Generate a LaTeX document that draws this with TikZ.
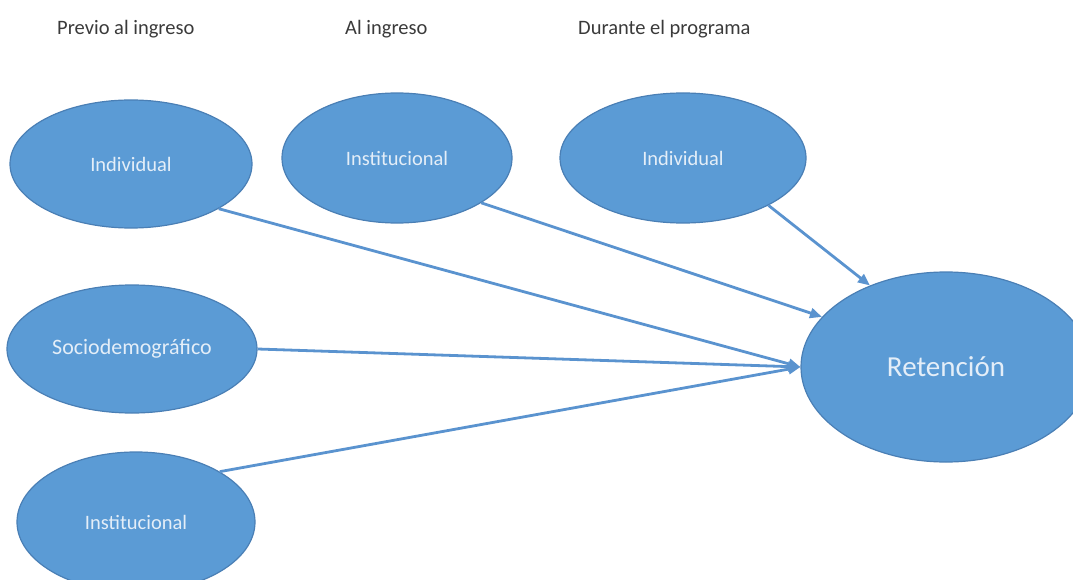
\documentclass[tikz,border=0pt]{standalone}
\usepackage{fontspec}
\setmainfont{Carlito}
\usetikzlibrary{shapes.geometric,arrows.meta}
\definecolor{ofill}{HTML}{5B9BD5}
\definecolor{oline}{HTML}{4A7FB5}
\definecolor{olabel}{HTML}{E4EEF8}
\definecolor{oarrow}{HTML}{5A93CF}
\definecolor{ohead}{HTML}{3A3A3A}
\tikzset{
  bubble/.style={ellipse, fill=ofill, draw=oline, line width=1.2pt, inner sep=0pt,
    text=olabel, font=\fontsize{20.5}{24}\selectfont},
  phase/.style={text=ohead, font=\fontsize{20.5}{24}\selectfont, inner sep=0pt, anchor=base west},
  link/.style={draw=oarrow, line width=2.8pt, -{Triangle[length=12pt,width=10pt]}}
}
\begin{document}
\begin{tikzpicture}[x=1pt,y=-1pt]
\useasboundingbox (0,0) rectangle (1073,580);
\begin{scope}
\clip (0,0) rectangle (1073,580);
\node[phase] (h1) at (57,35) {Previo al ingreso};
\node[phase] (h2) at (345,35) {Al ingreso};
\node[phase] (h3) at (578,35) {Durante el programa};

\node[bubble, minimum width=242pt, minimum height=128pt] (ind1) at (131,164) {Individual};
\node[bubble, minimum width=230pt, minimum height=130pt] (inst1) at (397,158) {Institucional};
\node[bubble, minimum width=246pt, minimum height=130pt] (ind2) at (683,158) {Individual};
\node[bubble, minimum width=250pt, minimum height=128pt, font=\fontsize{22}{26}\selectfont] (socio) at (132,349) {Sociodemográfico};
\node[bubble, minimum width=238pt, minimum height=140pt] (inst2) at (136,522) {Institucional};
\node[bubble, minimum width=290pt, minimum height=190pt, font=\fontsize{29}{34}\selectfont] (ret) at (946,367) {Retención};

\draw[link] (ind1.-27) -- (ret.180);
\draw[link] (inst1.-28) -- (ret.158);
\draw[link] (ind2.-29) -- (ret.133);
\draw[link] (socio.0) -- (ret.180);
\draw[link] (inst2.31) -- (ret.180);
\end{scope}
\end{tikzpicture}
\end{document}
